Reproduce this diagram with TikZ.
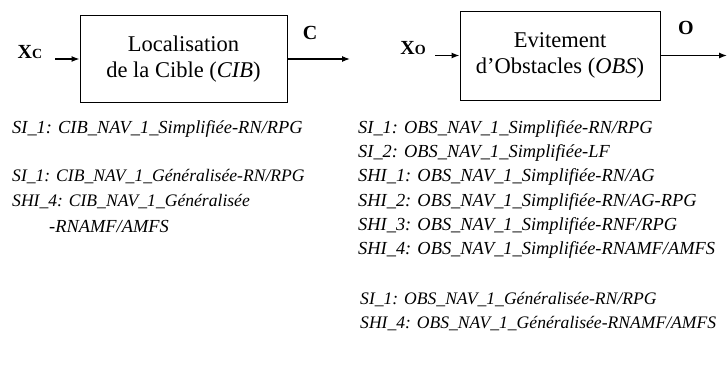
\documentclass[tikz,border=0pt]{standalone}
\usepackage{fontspec}
\setmainfont{Liberation Serif}
\usetikzlibrary{arrows.meta}
\begin{document}
\begin{tikzpicture}[x=1pt,y=-1pt,
  block/.style={draw, line width=1pt, inner sep=0pt, align=center,
    font=\fontsize{22.5}{26}\selectfont},
  arr/.style={-{Latex[length=8pt,width=6pt]}, line width=1.2pt},
  sig/.style={inner sep=0pt, font=\fontsize{20}{20}\selectfont\bfseries},
  item/.style={inner sep=0pt, anchor=west, font=\fontsize{18.4}{18.4}\selectfont\itshape},
  itemg/.style={item, font=\fontsize{17.6}{17.6}\selectfont\itshape}]
\useasboundingbox (0,0) rectangle (727,384);

% the two blocks
\node[block, minimum width=207pt, minimum height=87pt] (cib) at (183.5,59)
  {Localisation\\de la Cible (\textit{CIB})};
\node[block, minimum width=200pt, minimum height=89pt] (obs) at (560,55.5)
  {Evitement\\d’Obstacles (\textit{OBS})};

% inputs and outputs
\node[sig] (xc) at (30,52) {X{\fontsize{14}{14}\selectfont C}};
\coordinate (xcin) at (55,59);
\draw[arr] (xcin) -- (cib.west);
\coordinate (cout) at (350,59);
\draw[arr] (cib.east) -- (cout);
\node[sig] (c) at (310,33) {C};

\node[sig] (xo) at (413,48) {X{\fontsize{14}{14}\selectfont O}};
\coordinate (xoin) at (435,55.5);
\draw[arr] (xoin) -- (obs.west);
\coordinate (oout) at (727,55.5);
\draw[arr] (obs.east) -- (oout);
\node[sig] (o) at (686,28) {O};

% variants of the target localisation block
\node[item] (c1) at (12,129) {SI\_1: CIB\_NAV\_1\_Simplifiée-RN/RPG};
\node[itemg] (c2) at (12,177) {SI\_1: CIB\_NAV\_1\_Généralisée-RN/RPG};
\node[itemg] (c3) at (12,202) {SHI\_4: CIB\_NAV\_1\_Généralisée};
\node[item] (c4) at (49,226) {-RNAMF/AMFS};

% variants of the obstacle avoidance block
\node[item] (o1) at (358,129) {SI\_1: OBS\_NAV\_1\_Simplifiée-RN/RPG};
\node[item] (o2) at (358,153) {SI\_2: OBS\_NAV\_1\_Simplifiée-LF};
\node[item] (o3) at (358,177) {SHI\_1: OBS\_NAV\_1\_Simplifiée-RN/AG};
\node[item] (o4) at (358,202) {SHI\_2: OBS\_NAV\_1\_Simplifiée-RN/AG-RPG};
\node[item] (o5) at (358,226) {SHI\_3: OBS\_NAV\_1\_Simplifiée-RNF/RPG};
\node[item] (o6) at (358,250) {SHI\_4: OBS\_NAV\_1\_Simplifiée-RNAMF/AMFS};
\node[itemg] (o7) at (360,300) {SI\_1: OBS\_NAV\_1\_Généralisée-RN/RPG};
\node[itemg] (o8) at (360,324) {SHI\_4: OBS\_NAV\_1\_Généralisée-RNAMF/AMFS};
\end{tikzpicture}
\end{document}
